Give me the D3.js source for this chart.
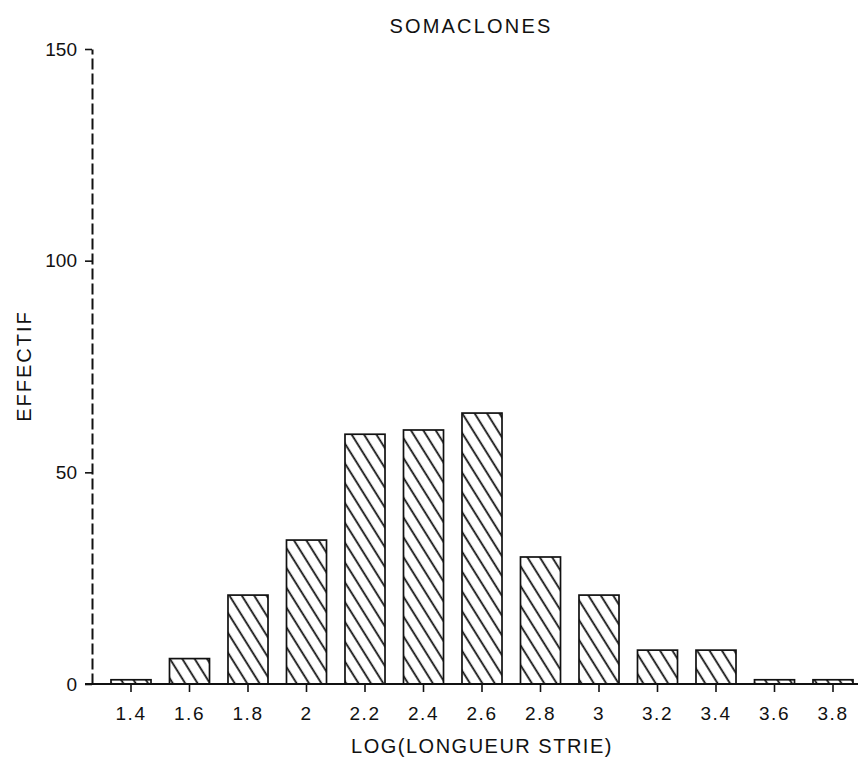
<!DOCTYPE html>
<html>
<head>
<meta charset="utf-8">
<script src="https://cdn.jsdelivr.net/npm/d3@7"></script>
<style>
  html, body { margin: 0; padding: 0; background: #fff; }
  svg { display: block; }
  text { font-family: "Liberation Sans", Arial, sans-serif; fill: #111; }
</style>
</head>
<body>
<svg id="chart" width="863" height="764"></svg>
<script>
// ---- data ----
const categories = ["1.4","1.6","1.8","2","2.2","2.4","2.6","2.8","3","3.2","3.4","3.6","3.8"];
const counts     = [1, 6, 21, 34, 59, 60, 64, 30, 21, 8, 8, 1, 1];
const yTicks     = [0, 50, 100, 150];
const title      = "SOMACLONES";
const xTitle     = "LOG(LONGUEUR STRIE)";
const yTitle     = "EFFECTIF";

const svg = d3.select("#chart");

const x = d3.scaleBand()
  .domain(categories)
  .range([101.75, 862.25])
  .paddingInner(0.316)
  .paddingOuter(0.158);

const y = d3.scaleLinear().domain([0, 150]).range([684, 49]);

// hatch pattern
const defs = svg.append("defs");
const pat = defs.append("pattern")
  .attr("id", "hatch")
  .attr("patternUnits", "userSpaceOnUse")
  .attr("width", 10.5).attr("height", 10)
  .attr("patternTransform", "rotate(-32)");
pat.append("line")
  .attr("x1", 5).attr("y1", 0).attr("x2", 5).attr("y2", 10)
  .attr("stroke", "#111").attr("stroke-width", 1.8);

// bars
svg.append("g").selectAll("rect")
  .data(categories.map((c, i) => ({c, v: counts[i]})))
  .join("rect")
  .attr("x", d => x(d.c))
  .attr("y", d => y(d.v))
  .attr("width", x.bandwidth())
  .attr("height", d => y(0) - y(d.v))
  .attr("fill", "url(#hatch)")
  .attr("stroke", "#111")
  .attr("stroke-width", 1.7);

// x axis
const xAxis = d3.axisBottom(x).tickSize(8).tickPadding(15).tickSizeOuter(0);
const gx = svg.append("g").attr("transform", `translate(0,${y(0)})`).call(xAxis);
gx.select(".domain").remove();
gx.append("line").attr("x1", 85).attr("x2", 858).attr("y1", 0).attr("y2", 0)
  .attr("stroke", "#111").attr("stroke-width", 2);
gx.selectAll(".tick line").attr("stroke", "#111").attr("stroke-width", 1.6);
gx.selectAll(".tick text")
  .style("font-family", "'Liberation Sans', Arial, sans-serif")
  .attr("font-size", 19).attr("fill", "#111").attr("letter-spacing", 1.5);

// y axis
const yAxis = d3.axisLeft(y).tickValues(yTicks).tickSize(7).tickPadding(8).tickSizeOuter(0);
const gy = svg.append("g").attr("transform", "translate(92,0)").call(yAxis);
gy.select(".domain").attr("stroke", "#111").attr("stroke-width", 2)
  .attr("stroke-dasharray", "11,4");
gy.selectAll(".tick line").attr("stroke", "#111").attr("stroke-width", 1.6);
gy.selectAll(".tick text")
  .style("font-family", "'Liberation Sans', Arial, sans-serif")
  .attr("font-size", 19).attr("fill", "#111");

// titles
svg.append("text").attr("x", 471).attr("y", 33).attr("text-anchor", "middle")
  .attr("font-size", 20).attr("letter-spacing", 2.2).text(title);
svg.append("text").attr("x", 482).attr("y", 753).attr("text-anchor", "middle")
  .attr("font-size", 20).attr("letter-spacing", 1.5).text(xTitle);
svg.append("text").attr("transform", "translate(31,366) rotate(-90)")
  .attr("text-anchor", "middle").attr("font-size", 20).attr("letter-spacing", 2)
  .text(yTitle);
</script>
</body>
</html>
